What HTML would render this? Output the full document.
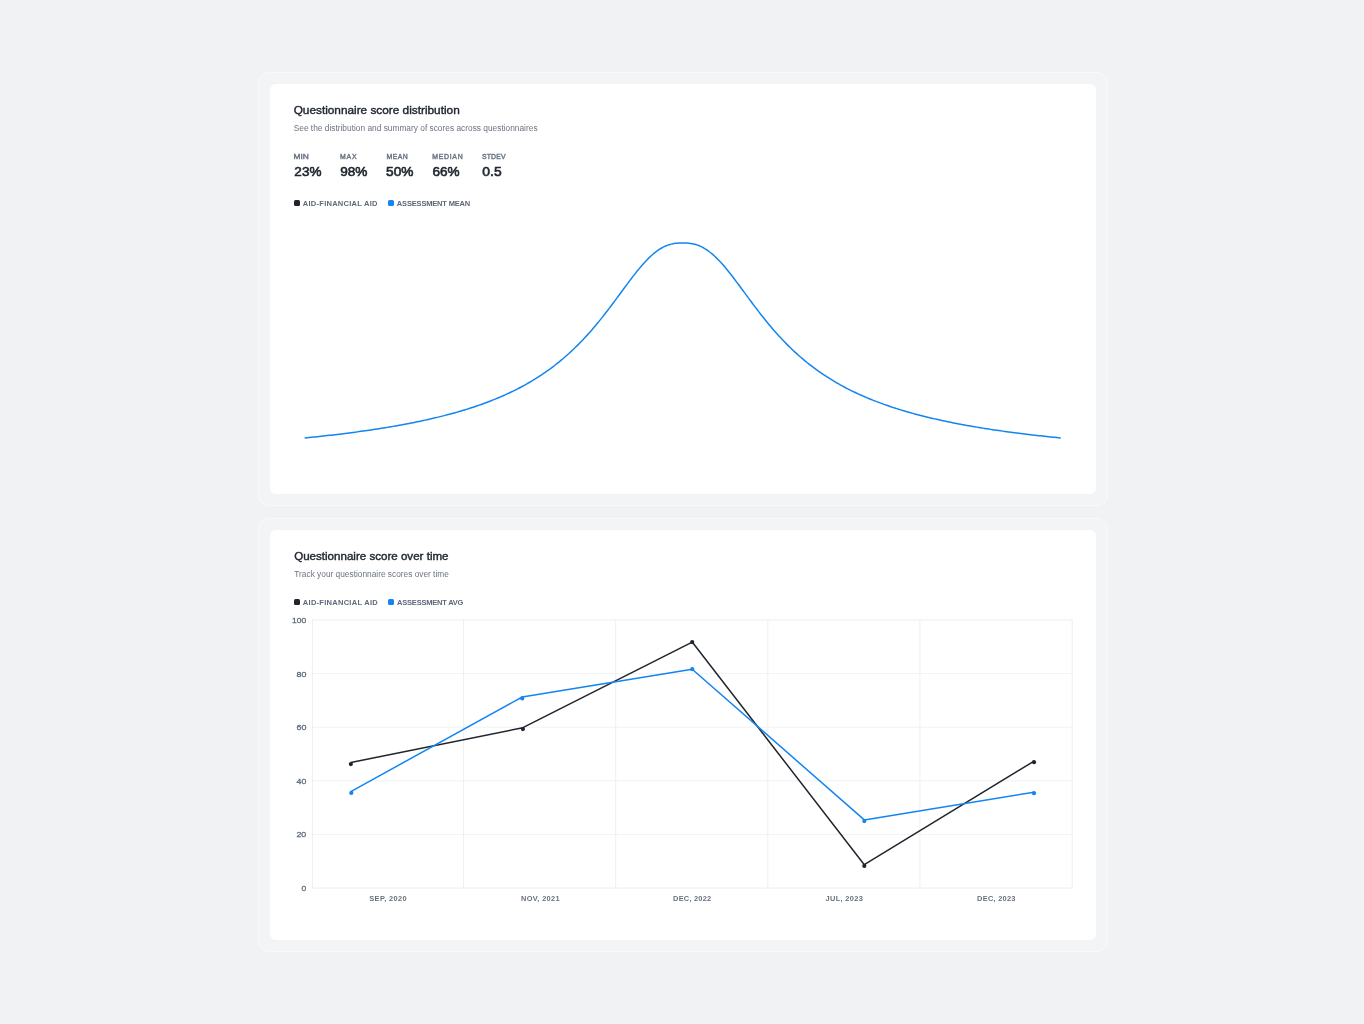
<!DOCTYPE html>
<html><head><meta charset="utf-8"><title>Questionnaire scores</title><style>
html,body{margin:0;padding:0;}
body{width:1364px;height:1024px;background:#f1f2f4;position:relative;overflow:hidden;}
#root{position:absolute;left:0;top:0;width:1364px;height:1024px;will-change:transform;}
.outer{position:absolute;left:258px;width:848px;height:432px;border:1px solid #f9f9fa;border-radius:11px;background:#f3f4f6;}
.card{position:absolute;left:270px;width:826px;height:410px;background:#fff;border-radius:6px;}
.sq{position:absolute;width:6px;height:6px;border-radius:1.5px;}
svg{position:absolute;left:0;top:0;}
text{font-family:"Liberation Sans",Arial,sans-serif;}
.title{fill:#222831;stroke:#222831;stroke-width:0.4px;}
.sub{fill:#6c7480;}
.lbl{font-weight:400;fill:#6a7584;stroke:#6a7584;stroke-width:0.4px;}
.val{font-weight:400;fill:#1f252d;stroke:#1f252d;stroke-width:0.6px;}
.leg{font-weight:700;fill:#5d6878;}
.xl{font-weight:700;fill:#66717e;}
.yl{font-weight:400;fill:#5f6b79;stroke:#5f6b79;stroke-width:0.3px;}
</style></head><body><div id="root">
<div class="outer" style="top:72px"></div>
<div class="card" style="top:84px"></div>
<div class="outer" style="top:518px"></div>
<div class="card" style="top:530px"></div>
<div class="sq" style="left:294px;top:200px;background:#20252d"></div>
<div class="sq" style="left:388px;top:200px;background:#1285f2"></div>
<div class="sq" style="left:294px;top:599.2px;background:#20252d"></div>
<div class="sq" style="left:388px;top:599.2px;background:#1285f2"></div>
<svg width="1364" height="1024" viewBox="0 0 1364 1024">
<path d="M305.2,437.92 L307.2,437.72 L309.2,437.52 L311.2,437.32 L313.2,437.11 L315.2,436.90 L317.2,436.69 L319.2,436.48 L321.2,436.26 L323.2,436.04 L325.2,435.82 L327.2,435.59 L329.2,435.37 L331.2,435.14 L333.2,434.91 L335.2,434.67 L337.2,434.43 L339.2,434.19 L341.2,433.95 L343.2,433.70 L345.2,433.45 L347.2,433.20 L349.2,432.94 L351.2,432.68 L353.2,432.42 L355.2,432.15 L357.2,431.88 L359.2,431.61 L361.2,431.34 L363.2,431.05 L365.2,430.77 L367.2,430.48 L369.2,430.19 L371.2,429.90 L373.2,429.60 L375.2,429.29 L377.2,428.99 L379.2,428.67 L381.2,428.36 L383.2,428.04 L385.2,427.71 L387.2,427.38 L389.2,427.05 L391.2,426.71 L393.2,426.37 L395.2,426.02 L397.2,425.67 L399.2,425.31 L401.2,424.94 L403.2,424.58 L405.2,424.20 L407.2,423.82 L409.2,423.43 L411.2,423.04 L413.2,422.65 L415.2,422.24 L417.2,421.83 L419.2,421.42 L421.2,420.99 L423.2,420.56 L425.2,420.13 L427.2,419.69 L429.2,419.24 L431.2,418.78 L433.2,418.31 L435.2,417.84 L437.2,417.36 L439.2,416.87 L441.2,416.38 L443.2,415.87 L445.2,415.36 L447.2,414.84 L449.2,414.31 L451.2,413.77 L453.2,413.22 L455.2,412.67 L457.2,412.10 L459.2,411.52 L461.2,410.93 L463.2,410.33 L465.2,409.73 L467.2,409.11 L469.2,408.47 L471.2,407.83 L473.2,407.18 L475.2,406.51 L477.2,405.83 L479.2,405.14 L481.2,404.43 L483.2,403.71 L485.2,402.98 L487.2,402.24 L489.2,401.47 L491.2,400.70 L493.2,399.91 L495.2,399.10 L497.2,398.28 L499.2,397.44 L501.2,396.58 L503.2,395.71 L505.2,394.81 L507.2,393.90 L509.2,392.97 L511.2,392.03 L513.2,391.06 L515.2,390.07 L517.2,389.06 L519.2,388.03 L521.2,386.97 L523.2,385.89 L525.2,384.79 L527.2,383.67 L529.2,382.52 L531.2,381.35 L533.2,380.15 L535.2,378.92 L537.2,377.66 L539.2,376.38 L541.2,375.07 L543.2,373.73 L545.2,372.35 L547.2,370.95 L549.2,369.52 L551.2,368.05 L553.2,366.54 L555.2,365.01 L557.2,363.44 L559.2,361.83 L561.2,360.18 L563.2,358.50 L565.2,356.78 L567.2,355.02 L569.2,353.22 L571.2,351.38 L573.2,349.50 L575.2,347.57 L577.2,345.61 L579.2,343.60 L581.2,341.54 L583.2,339.45 L585.2,337.31 L587.2,335.13 L589.2,332.90 L591.2,330.63 L593.2,328.31 L595.2,325.96 L597.2,323.56 L599.2,321.12 L601.2,318.64 L603.2,316.12 L605.2,313.57 L607.2,310.99 L609.2,308.37 L611.2,305.73 L613.2,303.06 L615.2,300.37 L617.2,297.67 L619.2,294.95 L621.2,292.23 L623.2,289.51 L625.2,286.80 L627.2,284.10 L629.2,281.42 L631.2,278.77 L633.2,276.16 L635.2,273.60 L637.2,271.09 L639.2,268.64 L641.2,266.26 L643.2,263.97 L645.2,261.76 L647.2,259.65 L649.2,257.65 L651.2,255.77 L653.2,254.00 L655.2,252.36 L657.2,250.85 L659.2,249.48 L661.2,248.25 L663.2,247.15 L665.2,246.19 L667.2,245.37 L669.2,244.68 L671.2,244.12 L673.2,243.68 L675.2,243.36 L677.2,243.14 L679.2,243.01 L681.2,242.96 L682.7,242.95 L684.7,242.96 L686.7,243.04 L688.7,243.19 L690.7,243.43 L692.7,243.78 L694.7,244.25 L696.7,244.84 L698.7,245.56 L700.7,246.42 L702.7,247.41 L704.7,248.54 L706.7,249.81 L708.7,251.22 L710.7,252.76 L712.7,254.43 L714.7,256.23 L716.7,258.14 L718.7,260.17 L720.7,262.30 L722.7,264.53 L724.7,266.85 L726.7,269.24 L728.7,271.71 L730.7,274.23 L732.7,276.81 L734.7,279.43 L736.7,282.09 L738.7,284.77 L740.7,287.48 L742.7,290.19 L744.7,292.91 L746.7,295.63 L748.7,298.34 L750.7,301.04 L752.7,303.73 L754.7,306.39 L756.7,309.03 L758.7,311.64 L760.7,314.21 L762.7,316.76 L764.7,319.26 L766.7,321.73 L768.7,324.16 L770.7,326.55 L772.7,328.90 L774.7,331.20 L776.7,333.46 L778.7,335.68 L780.7,337.85 L782.7,339.98 L784.7,342.06 L786.7,344.10 L788.7,346.10 L790.7,348.06 L792.7,349.97 L794.7,351.84 L796.7,353.67 L798.7,355.46 L800.7,357.21 L802.7,358.92 L804.7,360.60 L806.7,362.23 L808.7,363.83 L810.7,365.40 L812.7,366.92 L814.7,368.42 L816.7,369.88 L818.7,371.30 L820.7,372.70 L822.7,374.06 L824.7,375.40 L826.7,376.70 L828.7,377.98 L830.7,379.23 L832.7,380.45 L834.7,381.64 L836.7,382.81 L838.7,383.95 L840.7,385.07 L842.7,386.17 L844.7,387.24 L846.7,388.29 L848.7,389.31 L850.7,390.32 L852.7,391.30 L854.7,392.26 L856.7,393.21 L858.7,394.13 L860.7,395.04 L862.7,395.93 L864.7,396.80 L866.7,397.65 L868.7,398.48 L870.7,399.30 L872.7,400.11 L874.7,400.89 L876.7,401.67 L878.7,402.42 L880.7,403.17 L882.7,403.90 L884.7,404.61 L886.7,405.31 L888.7,406.00 L890.7,406.68 L892.7,407.34 L894.7,407.99 L896.7,408.63 L898.7,409.26 L900.7,409.88 L902.7,410.49 L904.7,411.08 L906.7,411.67 L908.7,412.24 L910.7,412.81 L912.7,413.36 L914.7,413.91 L916.7,414.44 L918.7,414.97 L920.7,415.49 L922.7,416.00 L924.7,416.50 L926.7,417.00 L928.7,417.48 L930.7,417.96 L932.7,418.43 L934.7,418.89 L936.7,419.35 L938.7,419.80 L940.7,420.24 L942.7,420.67 L944.7,421.10 L946.7,421.52 L948.7,421.94 L950.7,422.34 L952.7,422.75 L954.7,423.14 L956.7,423.53 L958.7,423.92 L960.7,424.29 L962.7,424.67 L964.7,425.04 L966.7,425.40 L968.7,425.76 L970.7,426.11 L972.7,426.45 L974.7,426.80 L976.7,427.13 L978.7,427.47 L980.7,427.80 L982.7,428.12 L984.7,428.44 L986.7,428.75 L988.7,429.06 L990.7,429.37 L992.7,429.67 L994.7,429.97 L996.7,430.27 L998.7,430.56 L1000.7,430.84 L1002.7,431.13 L1004.7,431.40 L1006.7,431.68 L1008.7,431.95 L1010.7,432.22 L1012.7,432.49 L1014.7,432.75 L1016.7,433.01 L1018.7,433.26 L1020.7,433.51 L1022.7,433.76 L1024.7,434.01 L1026.7,434.25 L1028.7,434.49 L1030.7,434.73 L1032.7,434.96 L1034.7,435.20 L1036.7,435.43 L1038.7,435.65 L1040.7,435.87 L1042.7,436.10 L1044.7,436.31 L1046.7,436.53 L1048.7,436.74 L1050.7,436.95 L1052.7,437.16 L1054.7,437.37 L1056.7,437.57 L1058.7,437.77 L1060.2,437.92" fill="none" stroke="#1285f2" stroke-width="1.5" stroke-linejoin="round" stroke-linecap="round"/>
<g stroke="#f0f2f4" stroke-width="1"><line x1="312" y1="834.40" x2="1072" y2="834.40"/><line x1="312" y1="780.80" x2="1072" y2="780.80"/><line x1="312" y1="727.20" x2="1072" y2="727.20"/><line x1="312" y1="673.60" x2="1072" y2="673.60"/></g>
<g stroke="#eeeff4" stroke-width="1"><line x1="463.60" y1="620" x2="463.60" y2="888"/><line x1="615.70" y1="620" x2="615.70" y2="888"/><line x1="767.80" y1="620" x2="767.80" y2="888"/><line x1="919.90" y1="620" x2="919.90" y2="888"/></g>
<rect x="312.4" y="620" width="759.8" height="268" fill="none" stroke="#eceef2" stroke-width="1"/>
<text class="title" x="293.68" y="113.90" font-size="11.2" textLength="166.05" lengthAdjust="spacingAndGlyphs">Questionnaire score distribution</text><text class="sub" x="293.69" y="130.80" font-size="8.3" textLength="243.87" lengthAdjust="spacingAndGlyphs">See the distribution and summary of scores across questionnaires</text><text class="lbl" x="293.49" y="158.80" font-size="6.9" textLength="15.34" lengthAdjust="spacingAndGlyphs">MIN</text><text class="lbl" x="340.10" y="158.80" font-size="6.9" textLength="16.48" lengthAdjust="spacing">MAX</text><text class="lbl" x="386.45" y="158.80" font-size="6.9" textLength="21.29" lengthAdjust="spacing">MEAN</text><text class="lbl" x="432.30" y="158.80" font-size="6.9" textLength="30.31" lengthAdjust="spacing">MEDIAN</text><text class="lbl" x="481.89" y="158.80" font-size="6.9" textLength="23.84" lengthAdjust="spacing">STDEV</text><text class="val" x="294.37" y="175.95" font-size="12.9" textLength="27.11" lengthAdjust="spacingAndGlyphs">23%</text><text class="val" x="340.19" y="175.95" font-size="12.9" textLength="27.27" lengthAdjust="spacingAndGlyphs">98%</text><text class="val" x="386.09" y="175.95" font-size="12.9" textLength="27.43" lengthAdjust="spacingAndGlyphs">50%</text><text class="val" x="432.41" y="175.95" font-size="12.9" textLength="27.17" lengthAdjust="spacingAndGlyphs">66%</text><text class="val" x="482.33" y="175.95" font-size="12.9" textLength="19.30" lengthAdjust="spacingAndGlyphs">0.5</text><text class="leg" x="302.83" y="206.00" font-size="7.5" textLength="74.59" lengthAdjust="spacing">AID-FINANCIAL AID</text><text class="leg" x="396.85" y="206.00" font-size="7.5" textLength="73.33" lengthAdjust="spacing">ASSESSMENT MEAN</text><text class="title" x="294.15" y="559.90" font-size="11.2" textLength="154.39" lengthAdjust="spacingAndGlyphs">Questionnaire score over time</text><text class="sub" x="294.34" y="577.00" font-size="8.3" textLength="154.49" lengthAdjust="spacingAndGlyphs">Track your questionnaire scores over time</text><text class="leg" x="302.84" y="605.10" font-size="7.5" textLength="74.83" lengthAdjust="spacing">AID-FINANCIAL AID</text><text class="leg" x="397.11" y="605.10" font-size="7.5" textLength="66.29" lengthAdjust="spacing">ASSESSMENT AVG</text><text class="xl" x="369.34" y="901.20" font-size="7.4" textLength="37.20" lengthAdjust="spacing">SEP, 2020</text><text class="xl" x="521.00" y="901.20" font-size="7.4" textLength="38.67" lengthAdjust="spacing">NOV, 2021</text><text class="xl" x="673.09" y="901.20" font-size="7.4" textLength="38.09" lengthAdjust="spacing">DEC, 2022</text><text class="xl" x="825.59" y="901.20" font-size="7.4" textLength="37.22" lengthAdjust="spacing">JUL, 2023</text><text class="xl" x="977.10" y="901.20" font-size="7.4" textLength="38.38" lengthAdjust="spacing">DEC, 2023</text><text class="yl" x="292.13" y="622.90" font-size="7.9" textLength="14.19" lengthAdjust="spacingAndGlyphs">100</text><text class="yl" x="296.50" y="676.50" font-size="7.9" textLength="9.86" lengthAdjust="spacingAndGlyphs">80</text><text class="yl" x="296.44" y="730.10" font-size="7.9" textLength="9.89" lengthAdjust="spacingAndGlyphs">60</text><text class="yl" x="296.64" y="783.70" font-size="7.9" textLength="9.68" lengthAdjust="spacingAndGlyphs">40</text><text class="yl" x="296.42" y="837.30" font-size="7.9" textLength="9.89" lengthAdjust="spacingAndGlyphs">20</text><text class="yl" x="301.55" y="890.90" font-size="7.9" textLength="4.72" lengthAdjust="spacingAndGlyphs">0</text>
<polyline points="350.85,762.45 522.90,727.70 692.20,642.05 864.30,864.70 1034.00,761.20" fill="none" stroke="#20252d" stroke-width="1.5" stroke-linejoin="round"/>
<polyline points="351.30,791.30 522.20,697.00 692.20,669.20 864.30,819.90 1034.00,792.20" fill="none" stroke="#1285f2" stroke-width="1.5" stroke-linejoin="round"/>
<circle cx="350.85" cy="764.05" r="2.1" fill="#20252d"/><circle cx="522.90" cy="729.10" r="2.1" fill="#20252d"/><circle cx="692.20" cy="642.05" r="2.1" fill="#20252d"/><circle cx="864.30" cy="865.90" r="2.1" fill="#20252d"/><circle cx="1034.00" cy="762.20" r="2.1" fill="#20252d"/>
<circle cx="351.30" cy="792.90" r="2.1" fill="#1285f2"/><circle cx="522.20" cy="698.40" r="2.1" fill="#1285f2"/><circle cx="692.20" cy="669.20" r="2.1" fill="#1285f2"/><circle cx="864.30" cy="821.10" r="2.1" fill="#1285f2"/><circle cx="1034.00" cy="793.20" r="2.1" fill="#1285f2"/>
</svg>
</div></body></html>
